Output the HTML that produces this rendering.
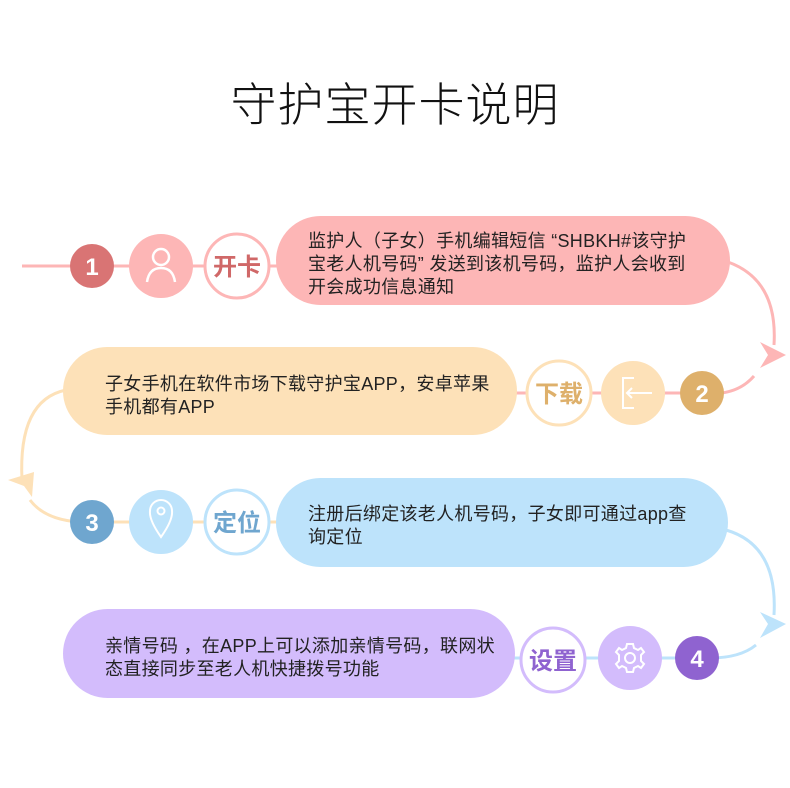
<!DOCTYPE html>
<html><head><meta charset="utf-8"><style>
html,body{margin:0;padding:0;background:#fff;}
svg{display:block}
text{font-family:"Liberation Sans","Noto Sans CJK SC",sans-serif;}
</style></head><body>
<svg width="790" height="788" viewBox="0 0 790 788" xmlns="http://www.w3.org/2000/svg">
<rect width="790" height="788" fill="#fff"/>
<text x="395" y="121" text-anchor="middle" font-size="46" font-weight="300" fill="#111" letter-spacing="1">守护宝开卡说明</text>

<!-- Row 1 -->
<line x1="22" y1="266" x2="290" y2="266" stroke="#fdb6b6" stroke-width="3"/>
<path d="M728,262 Q778,280 774,345" fill="none" stroke="#fdb6b6" stroke-width="3"/>
<polygon points="760,342 786,355 760,368 768,355" fill="#fdb6b6"/>
<path d="M754,376 Q742,390 722,393" fill="none" stroke="#fdb6b6" stroke-width="3"/>
<rect x="276" y="216" width="454" height="89" rx="44.5" fill="#fdb6b6"/>
<circle cx="92" cy="266" r="22" fill="#d97474"/>
<text x="92" y="275" text-anchor="middle" font-size="24" font-weight="bold" fill="#fff">1</text>
<circle cx="161" cy="266" r="32" fill="#fdb6b6"/>
<circle cx="161" cy="257" r="8" fill="none" stroke="#fff" stroke-width="2.5"/>
<path d="M147,282 Q149,268 161,268 Q173,268 175,282" fill="none" stroke="#fff" stroke-width="2.5"/>
<circle cx="237" cy="266" r="32" fill="#fff" stroke="#fdb6b6" stroke-width="3"/>
<text x="237" y="275" text-anchor="middle" font-size="24" font-weight="bold" fill="#d06868">开卡</text>
<g font-size="18" fill="#222" letter-spacing="0.3">
<text x="308" y="247">监护人（子女）手机编辑短信 “SHBKH#该守护</text>
<text x="308" y="270">宝老人机号码” 发送到该机号码，监护人会收到</text>
<text x="308" y="293">开会成功信息通知</text>
</g>

<!-- Row 2 -->
<line x1="500" y1="393" x2="705" y2="393" stroke="#fdb6b6" stroke-width="3"/>
<path d="M66,390 Q18,400 22,480" fill="none" stroke="#fde1b8" stroke-width="3"/>
<polygon points="8,480 34,472 32,497 24,486" fill="#fde1b8"/>
<path d="M30,500 Q45,520 80,522" fill="none" stroke="#fde1b8" stroke-width="3"/>
<rect x="63" y="347" width="454" height="88" rx="44" fill="#fde1b8"/>
<circle cx="559" cy="393" r="32" fill="#fff" stroke="#fde1b8" stroke-width="3"/>
<text x="559" y="402" text-anchor="middle" font-size="24" font-weight="bold" fill="#deb06b">下载</text>
<circle cx="633" cy="393" r="32" fill="#fde1b8"/>
<path d="M634,378 L623,378 L623,408 L634,408" fill="none" stroke="#fff" stroke-width="2"/>
<line x1="627" y1="393" x2="652" y2="393" stroke="#fff" stroke-width="2"/>
<path d="M632,388 L627,393 L632,398" fill="none" stroke="#fff" stroke-width="2"/>
<circle cx="702" cy="393" r="22" fill="#deb06b"/>
<text x="702" y="402" text-anchor="middle" font-size="24" font-weight="bold" fill="#fff">2</text>
<g font-size="18" fill="#222" letter-spacing="0.3">
<text x="105" y="390">子女手机在软件市场下载守护宝APP，安卓苹果</text>
<text x="105" y="413">手机都有APP</text>
</g>

<!-- Row 3 -->
<line x1="80" y1="522" x2="290" y2="522" stroke="#fde1b8" stroke-width="3"/>
<path d="M726,530 Q778,545 774,615" fill="none" stroke="#bde3fb" stroke-width="3"/>
<polygon points="760,612 786,624 760,638 768,624" fill="#bde3fb"/>
<path d="M756,645 Q740,658 710,658" fill="none" stroke="#bde3fb" stroke-width="3"/>
<rect x="276" y="478" width="452" height="89" rx="44.5" fill="#bde3fb"/>
<circle cx="92" cy="522" r="22" fill="#6fa6cf"/>
<text x="92" y="531" text-anchor="middle" font-size="24" font-weight="bold" fill="#fff">3</text>
<circle cx="161" cy="522" r="32" fill="#bde3fb"/>
<path d="M161,537 Q149,520 150,511 A11,11 0 0 1 172,511 Q173,520 161,537 Z" fill="none" stroke="#fff" stroke-width="2"/>
<circle cx="161" cy="511" r="3.5" fill="none" stroke="#fff" stroke-width="2"/>
<circle cx="237" cy="522" r="32" fill="#fff" stroke="#bde3fb" stroke-width="3"/>
<text x="237" y="531" text-anchor="middle" font-size="24" font-weight="bold" fill="#6fa6cf">定位</text>
<g font-size="18" fill="#222" letter-spacing="0.3">
<text x="308" y="520">注册后绑定该老人机号码，子女即可通过app查</text>
<text x="308" y="543">询定位</text>
</g>

<!-- Row 4 -->
<line x1="500" y1="658" x2="700" y2="658" stroke="#bde3fb" stroke-width="3"/>
<rect x="63" y="609" width="452" height="89" rx="44.5" fill="#d3bcfc"/>
<circle cx="553" cy="660" r="32" fill="#fff" stroke="#d3bcfc" stroke-width="3"/>
<text x="553" y="669" text-anchor="middle" font-size="24" font-weight="bold" fill="#8f63d0">设置</text>
<circle cx="630" cy="658" r="32" fill="#d3bcfc"/>
<g transform="translate(630,658)" fill="none" stroke="#fff" stroke-width="2">
<circle r="5"/>
<path d="M-3,-14 L3,-14 L4,-10 L8,-8 L11,-10 L14,-6 L11,-3 L11,3 L14,6 L11,10 L8,8 L4,10 L3,14 L-3,14 L-4,10 L-8,8 L-11,10 L-14,6 L-11,3 L-11,-3 L-14,-6 L-11,-10 L-8,-8 L-4,-10 Z"/>
</g>
<circle cx="697" cy="658" r="22" fill="#8f63d0"/>
<text x="697" y="667" text-anchor="middle" font-size="24" font-weight="bold" fill="#fff">4</text>
<g font-size="18" fill="#222" letter-spacing="0.3">
<text x="105" y="652">亲情号码 ，在APP上可以添加亲情号码，联网状</text>
<text x="105" y="675">态直接同步至老人机快捷拨号功能</text>
</g>
</svg>
</body></html>
